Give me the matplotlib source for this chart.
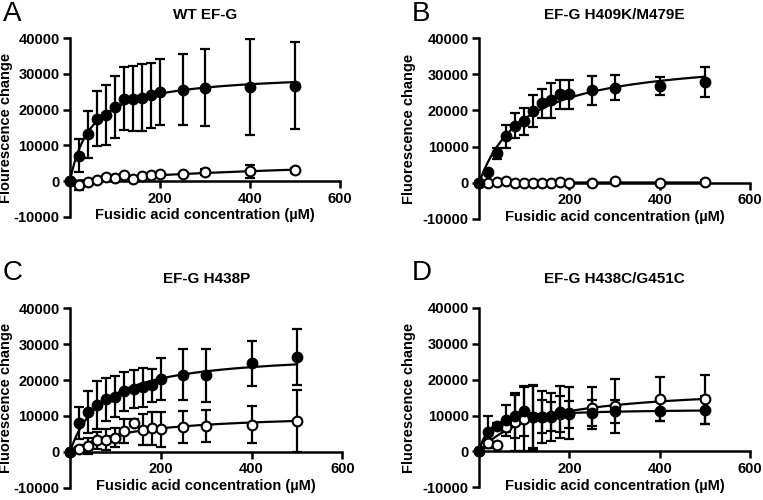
import numpy as np
import matplotlib
matplotlib.use('Agg')
import matplotlib.pyplot as plt

# ── SETTINGS ──
plt.rcParams['font.family'] = ['Liberation Sans', 'DejaVu Sans']
plt.rcParams['axes.unicode_minus'] = False

# ── DATA ──
conc = [0, 20, 40, 60, 80, 100, 120, 140, 160, 180, 200, 250, 300, 400, 500]

titles = ['WT EF-G', 'EF-G H409K/M479E', 'EF-G H438P', 'EF-G H438C/G451C']
letters = ['A', 'B', 'C', 'D']
ylabels = ['Flourescence change', 'Fluorescence change',
           'Fluorescence change', 'Fluorescence change']

# panel A
a_filled = [0, 7100, 13100, 17500, 18600, 20800, 23100, 23100, 23300, 24000, 24900, 25600, 26100, 26300, 26700]
a_filled_err = [0, 4600, 6500, 7600, 8400, 8700, 8900, 9100, 9300, 9100, 9300, 10000, 10800, 13500, 12100]
a_open = [0, -1200, -300, 200, 1100, 1000, 1600, 700, 1400, 1600, 2000, 2000, 2600, 2800, 3000]
a_open_err = [0, 1200, 300, 300, 300, 600, 300, 500, 300, 300, 300, 300, 800, 1800, 700]

# panel B
b_filled = [0, 3100, 8100, 12800, 15800, 17000, 19800, 22000, 22800, 24400, 24400, 25600, 26300, 26700, 27800]
b_filled_err = [0, 500, 1600, 3300, 3500, 3800, 4500, 4000, 4800, 4100, 4100, 4000, 3500, 2400, 4200]
b_open = [0, 0, 200, 600, 0, 0, -100, -100, 0, 300, -100, -100, 400, -100, 300]
b_open_err = [0, 200, 200, 200, 200, 200, 200, 200, 200, 200, 200, 200, 200, 200, 600]

# panel C
c_filled = [0, 8100, 11000, 13100, 14600, 15400, 16900, 17500, 18000, 18600, 20200, 21500, 21300, 24700, 26400]
c_filled_err = [0, 4500, 5800, 6700, 6000, 5800, 5400, 5300, 5400, 4600, 5900, 7100, 7300, 6300, 7900]
c_open = [0, 650, 1600, 3200, 3400, 3900, 5800, 8100, 6200, 6500, 6300, 6900, 7200, 7600, 8600]
c_open_err = [0, 700, 2200, 2300, 2900, 2600, 3400, 1000, 4200, 4500, 4900, 4400, 4500, 5100, 8600]

# panel D
d_filled = [0, 5500, 7000, 8700, 9800, 11200, 9600, 9600, 9600, 10900, 10600, 10700, 11200, 11200, 11500]
d_filled_err = [0, 4500, 800, 4300, 6000, 7000, 8700, 7300, 6800, 7300, 7200, 3500, 3200, 2700, 3800]
d_open = [0, 2400, 1900, 6800, 8100, 9000, 9500, 9600, 9800, 10400, 10300, 12100, 12600, 14600, 14500]
d_open_err = [0, 1000, 500, 1500, 8100, 9000, 9000, 4600, 4000, 5000, 3800, 5900, 7500, 6200, 6900]

panels = [
    (a_filled, a_filled_err, a_open, a_open_err),
    (b_filled, b_filled_err, b_open, b_open_err),
    (c_filled, c_filled_err, c_open, c_open_err),
    (d_filled, d_filled_err, d_open, d_open_err),
]

# axes boxes in figure fractions [left, bottom, width, height]
boxes = [
    [0.0917, 0.566, 0.354, 0.358],
    [0.628, 0.562, 0.355, 0.362],
    [0.0917, 0.0246, 0.357, 0.359],
    [0.628, 0.0254, 0.355, 0.359],
]
title_pads = [14, 14, 18, 18]
letter_y = [0.972, 0.972, 0.455, 0.455]
ylabel_x_px = [13, 416, 13, 416]   # centre of the rotated y label, in pixels
FIG_W = 763


def fit_hyperbola(x, y):
    # one-site binding: y = Bmax*x/(Kd+x), Bmax solved per Kd, Kd by grid search
    x = np.asarray(x, float)
    y = np.asarray(y, float)
    best = (np.inf, 1.0, 0.0)
    for kd in np.linspace(1, 3000, 6000):
        f = x / (kd + x)
        bmax = (f @ y) / (f @ f)
        sse = ((y - bmax * f) ** 2).sum()
        if sse < best[0]:
            best = (sse, kd, bmax)
    return best[1], best[2]


fig = plt.figure(figsize=(7.63, 5.0), dpi=100)
xs = np.linspace(0, 500, 300)

for i, (filled, filled_err, opn, opn_err) in enumerate(panels):
    ax = fig.add_axes(boxes[i])

    for y, err, face in [(opn, opn_err, 'white'), (filled, filled_err, 'black')]:
        kd, bmax = fit_hyperbola(conc, y)
        ax.plot(xs, bmax * xs / (kd + xs), color='black', lw=1.6, zorder=2)
        ax.errorbar(conc, y, yerr=err, fmt='none', ecolor='black',
                    elinewidth=1.6, capsize=3.5, capthick=1.6, zorder=3)
        ax.plot(conc, y, 'o', ms=7, mfc=face, mec='black', mew=1.5,
                zorder=4, clip_on=False)

    ax.set_xlim(0, 600)
    ax.set_ylim(-10000, 40000)
    ax.set_xticks([200, 400, 600])
    ax.set_yticks([-10000, 0, 10000, 20000, 30000, 40000])
    ax.spines['top'].set_visible(False)
    ax.spines['right'].set_visible(False)
    ax.spines['bottom'].set_position(('data', 0))
    ax.spines['left'].set_linewidth(1.8)
    ax.spines['bottom'].set_linewidth(1.8)
    ax.tick_params(width=1.8, length=5, labelsize=10.5, pad=2.5)
    for lab in ax.get_xticklabels() + ax.get_yticklabels():
        lab.set_fontweight('bold')

    ax.set_xlabel('Fusidic acid concentration (µM)', fontsize=10.5,
                  fontweight='bold', labelpad=2)
    ax.set_ylabel(ylabels[i], fontsize=10.5, fontweight='bold')
    left_px = boxes[i][0] * FIG_W
    width_px = boxes[i][2] * FIG_W
    ax.yaxis.set_label_coords((ylabel_x_px[i] - left_px) / width_px, 0.5)
    ax.set_title(titles[i], fontsize=11, fontweight='bold', pad=title_pads[i])

    # panel letter
    bx = boxes[i][0]
    fig.text(bx - 0.088, letter_y[i], letters[i], fontsize=20,
             ha='left', va='center')

fig.savefig('out.png', dpi=100)
